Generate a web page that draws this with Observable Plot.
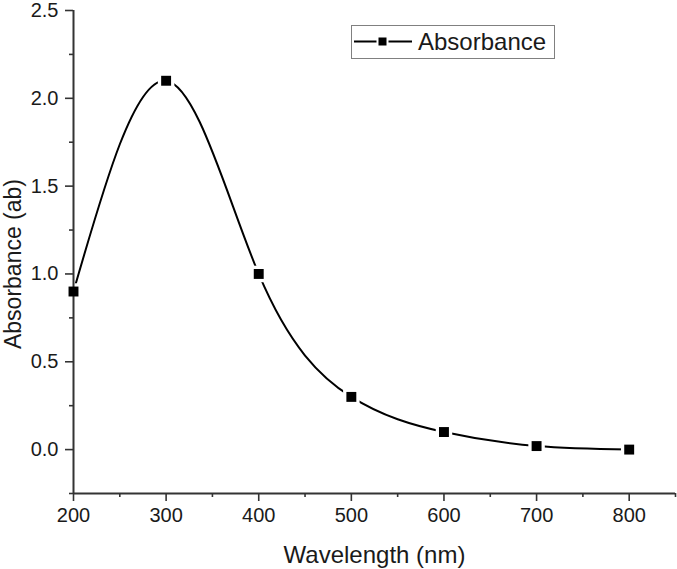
<!DOCTYPE html>
<html>
<head>
<meta charset="utf-8">
<script src="https://cdn.jsdelivr.net/npm/d3@7"></script>
<script src="https://cdn.jsdelivr.net/npm/@observablehq/plot@0.6"></script>
<style>
  html, body { margin: 0; padding: 0; background: #fff; }
  #wrap { position: relative; width: 677px; height: 569px; font-family: "Liberation Sans", Arial, sans-serif; }
  #legend { position: absolute; left: 351px; top: 25px; width: 202px; height: 32px; border: 1px solid #808080; background: #fff; }
  #legend svg { position: absolute; left: 0; top: 0; }
  #legend span { position: absolute; left: 66px; top: 1px; font-size: 24px; color: #1a1a1a; line-height: 30px; }
</style>
</head>
<body>
<div id="wrap"></div>
<script>
// Data
const wavelength = [200, 300, 400, 500, 600, 700, 800];
const absorbance = [0.90, 2.10, 1.00, 0.30, 0.10, 0.02, 0.00];
const seriesName = "Absorbance";
const xMajorTicks = [200, 300, 400, 500, 600, 700, 800];
const xMinorTicks = [250, 350, 450, 550, 650, 750, 850];
const yMajorTicks = [0.0, 0.5, 1.0, 1.5, 2.0, 2.5];
const yMinorTicks = [-0.25, 0.25, 0.75, 1.25, 1.75, 2.25];
const xTitle = "Wavelength (nm)";
const yTitle = "Absorbance (ab)";

const data = wavelength.map((w, i) => ({w, a: absorbance[i]}));
const ink = "#1a1a1a";
const axisColor = "#333";

const chart = Plot.plot({
  width: 677,
  height: 569,
  marginLeft: 73,
  marginRight: 2,
  marginTop: 10,
  marginBottom: 76,
  style: {fontFamily: '"Liberation Sans", Arial, sans-serif', color: ink, background: "white"},
  x: {domain: [200, 850]},
  y: {domain: [-0.25, 2.5]},
  marks: [
    Plot.line(data, {x: "w", y: "a", curve: "natural", stroke: "#000", strokeWidth: 2}),
    // white halo around the markers, leaving the small gaps seen in the reference
    Plot.dot(data, {x: "w", y: "a", symbol: "square", r: 9.3, fill: "white", stroke: "none"}),
    Plot.ruleX([200], {stroke: axisColor, strokeWidth: 2}),
    Plot.ruleY([-0.25], {stroke: axisColor, strokeWidth: 2}),
    Plot.axisX({ticks: xMajorTicks, tickSize: 8, tickPadding: 6, fontSize: 20, stroke: axisColor, strokeWidth: 1.6, fill: ink, label: null, tickFormat: d3.format("d")}),
    Plot.axisX({ticks: xMinorTicks, tickSize: 4, stroke: axisColor, strokeWidth: 1.6, text: null, label: null}),
    Plot.axisY({ticks: yMajorTicks, tickSize: 8, tickPadding: 7, fontSize: 20, stroke: axisColor, strokeWidth: 1.6, fill: ink, label: null, tickFormat: d3.format(".1f")}),
    Plot.axisY({ticks: yMinorTicks, tickSize: 4, stroke: axisColor, strokeWidth: 1.6, text: null, label: null}),
    Plot.dot(data, {x: "w", y: "a", symbol: "square", r: 5.6, fill: "#000", stroke: "none"}),
    Plot.text([xTitle], {frameAnchor: "bottom", dy: 69, lineAnchor: "bottom", textAnchor: "middle", fontSize: 24, fill: ink}),
    Plot.text([yTitle], {frameAnchor: "left", dx: -53, dy: 12, rotate: -90, lineAnchor: "bottom", textAnchor: "middle", fontSize: 23, fill: ink})
  ]
});

const wrap = document.getElementById("wrap");
wrap.appendChild(chart);

// Legend (overlay, as in the reference)
const legend = document.createElement("div");
legend.id = "legend";
const ls = d3.create("svg").attr("width", 64).attr("height", 32);
ls.append("line").attr("x1", 2).attr("x2", 60).attr("y1", 15.5).attr("y2", 15.5).attr("stroke", "#000").attr("stroke-width", 2);
ls.append("rect").attr("x", 24.5).attr("y", 9.5).attr("width", 12).attr("height", 12).attr("fill", "#fff");
ls.append("rect").attr("x", 26.5).attr("y", 11.5).attr("width", 8).attr("height", 8).attr("fill", "#000");
legend.appendChild(ls.node());
const lt = document.createElement("span");
lt.textContent = seriesName;
legend.appendChild(lt);
wrap.appendChild(legend);
</script>
</body>
</html>
